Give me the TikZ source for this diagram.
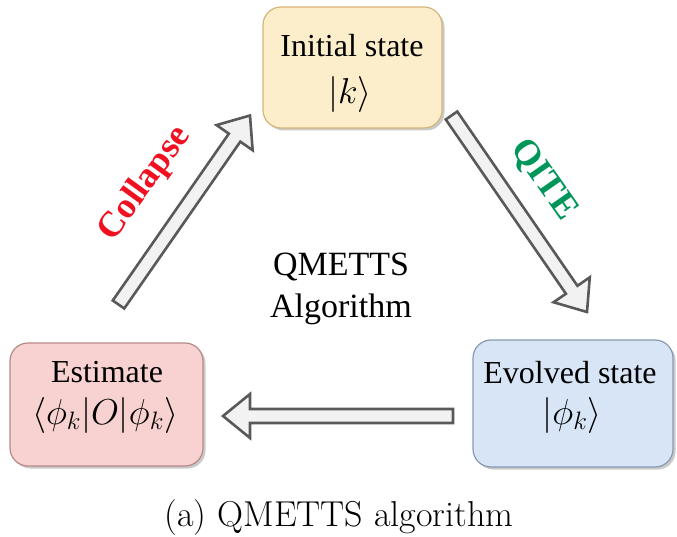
\RequirePackage{fix-cm}
\documentclass[tikz,border=0pt]{standalone}
\usepackage{fontspec}
\setmainfont{Liberation Serif}
\newfontfamily\lmfont{Latin Modern Roman}
\usetikzlibrary{calc,shadows}

\definecolor{initfill}{HTML}{FCEDCB}
\definecolor{initdraw}{HTML}{D6B57A}
\definecolor{estfill}{HTML}{F7D2D1}
\definecolor{estdraw}{HTML}{B58989}
\definecolor{evolfill}{HTML}{D8E5F7}
\definecolor{evoldraw}{HTML}{8899B3}
\definecolor{arrfill}{HTML}{F2F2F2}
\definecolor{arrdraw}{HTML}{595959}
\definecolor{collred}{HTML}{F01020}
\definecolor{qitegreen}{HTML}{00965A}

\tikzset{
  statebox/.style={rounded corners=18pt, line width=1.2pt, inner sep=0pt,
    drop shadow={shadow xshift=2.5pt, shadow yshift=-2.5pt, opacity=0.35, fill=black!60}},
  boxname/.style={anchor=base, inner sep=0pt, font=\fontsize{32}{36}\selectfont},
  boxmath/.style={anchor=base, inner sep=0pt, font=\fontsize{36}{40}\selectfont},
  fatarrow/.style={fill=arrfill, draw=arrdraw, line width=2.6pt, line join=miter},
  steplabel/.style={font=\bfseries\fontsize{36}{40}\selectfont},
  midlabel/.style={font=\fontsize{34}{42}\selectfont, align=center},
  caption/.style={font=\lmfont\fontsize{36}{40}\selectfont}
}

% hollow block arrow from tail #1 to tip #2
\newcommand{\blockarrow}[2]{%
  \coordinate (#1-neck) at ($(#2)!27pt!(#1)$);
  \draw[fatarrow]
    ($(#1)!7pt!90:(#2)$) -- ($(#1-neck)!7pt!90:(#2)$) --
    ($(#1-neck)!22pt!90:(#2)$) -- (#2) --
    ($(#1-neck)!22pt!-90:(#2)$) -- ($(#1-neck)!7pt!-90:(#2)$) --
    ($(#1)!7pt!-90:(#2)$) -- cycle;
}

\begin{document}
\begin{tikzpicture}[x=1pt, y=-1pt]
  \useasboundingbox (0,0) rectangle (677,537);

  % state boxes
  \node[statebox, fill=initfill, draw=initdraw, minimum width=179pt, minimum height=121pt]
    (init) at (352.5,67.5) {};
  \node[statebox, fill=estfill, draw=estdraw, minimum width=193pt, minimum height=123pt]
    (est) at (106.5,404.5) {};
  \node[statebox, fill=evolfill, draw=evoldraw, minimum width=200pt, minimum height=127pt]
    (evol) at (573,403.5) {};

  % box contents
  \node[boxname] (init-name) at (352,57)  {Initial state};
  \node[boxmath] (init-ket)  at (350,104) {$|k\rangle$};
  \node[boxname] (est-name)  at (107,382) {Estimate};
  \node[boxmath] (est-val)   at (105,424) {$\langle\phi_k|O|\phi_k\rangle$};
  \node[boxname] (evol-name) at (570,383) {Evolved state};
  \node[boxmath] (evol-ket)  at (572,424) {$|\phi_k\rangle$};

  % arrow end points
  \coordinate (collapse-tail) at (118.5,304.5);
  \coordinate (collapse-tip)  at (250,115.5);
  \coordinate (qite-tail)     at (451.5,115.5);
  \coordinate (qite-tip)      at (587,312);
  \coordinate (est-tail)      at (453,416);
  \coordinate (est-tip)       at (223,416);

  \blockarrow{collapse-tail}{collapse-tip}
  \blockarrow{qite-tail}{qite-tip}
  \blockarrow{est-tail}{est-tip}

  % arrow labels
  \node[steplabel, text=collred, rotate=54] (collapse) at (145,184) {Collapse};
  \node[steplabel, text=qitegreen, rotate=-55] (qite) at (544,180) {QITE};

  % centre title
  \node[midlabel] (title) at (341,289) {QMETTS\\Algorithm};

  % caption
  \node[caption] (cap) at (339,518) {(a) QMETTS algorithm};
\end{tikzpicture}
\end{document}
